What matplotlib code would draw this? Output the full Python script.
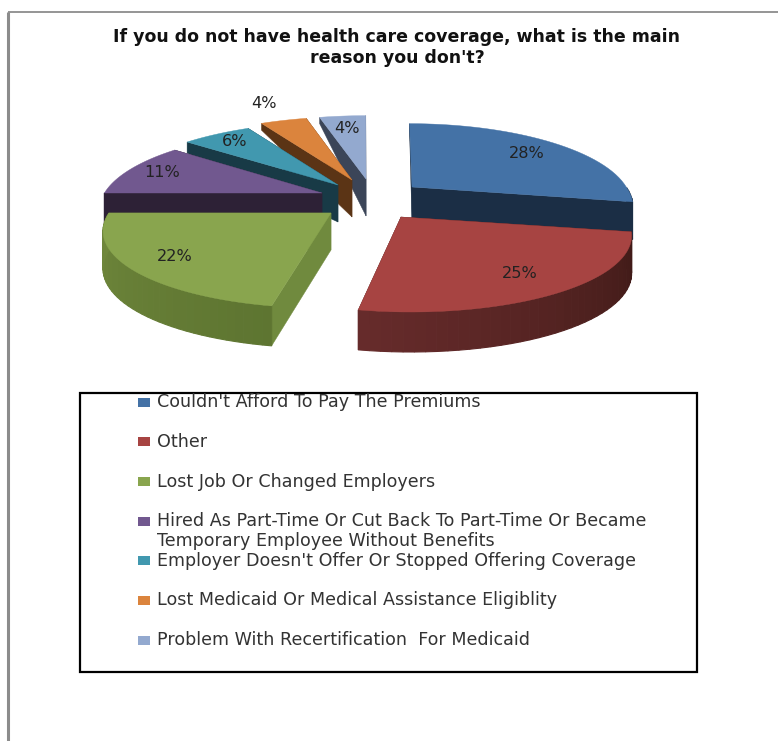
import numpy as np
import matplotlib
matplotlib.use('Agg')
import matplotlib.pyplot as plt
from matplotlib.patches import Rectangle

plt.rcParams['font.family'] = ['DejaVu Sans']

title = "If you do not have health care coverage, what is the main\nreason you don't?"
reasons = ["Couldn't Afford To Pay The Premiums",
           "Other",
           "Lost Job Or Changed Employers",
           "Hired As Part-Time Or Cut Back To Part-Time Or Became\nTemporary Employee Without Benefits",
           "Employer Doesn't Offer Or Stopped Offering Coverage",
           "Lost Medicaid Or Medical Assistance Eligiblity",
           "Problem With Recertification  For Medicaid"]
percents = [28, 25, 22, 11, 6, 4, 4]

top_cols = ['#4472a6', '#a74442', '#89a54e', '#71588f', '#4198af', '#db843d', '#93a9cf']
cut_cols = ['#1b2e45', '#451c19', '#708a3e', '#2d2136', '#183a46', '#5b3415', '#3b4558']
arc_cols = [('#1b2e45', '#1b2e45'), ('#3f1a17', '#662b2b'), ('#5e7531', '#70883c'),
            ('#2d2136', '#2d2136'), ('#183a46', '#183a46'), ('#5b3415', '#5b3415'),
            ('#3b4558', '#3b4558')]

# where each exploded slice has its tip, in pixels
tip_x = [412, 401, 331, 322, 338, 352, 366]
tip_y = [187, 217, 213, 193, 185, 180, 179]
radius = [0.965, 1.01, 1.0, 0.98, 1.0, 1.0, 1.0]
label_r = [0.77, 0.78, 0.80, 0.83, 0.83, 1.36, 0.77]
draw_order = [6, 5, 4, 3, 0, 2, 1]

# fake perspective of the 3d pie
van_x = 362.
rx = 222.
ry = 76.
k = 0.2


def project(ax0, ay0, theta, r=1., scale=1.):
    c = -np.cos(theta) * r
    s = 1. / (1. - k * c)
    # tips drift away from the vanishing point mostly towards the front
    drift = np.where(s > 1., s - 1., 0.3 * (s - 1.))
    x = ax0 + (ax0 - van_x) * drift + rx * scale * r * np.sin(theta) * s
    y = ay0 + ry * c * s
    return x, y


def depth(theta, r=1.):
    c = -np.cos(theta) * r
    return np.interp(c, [-1, -0.85, -0.64, 0, 1], [6, 7, 11, 37, 40])


def mix(c1, c2, t):
    a = np.array(matplotlib.colors.to_rgb(c1))
    b = np.array(matplotlib.colors.to_rgb(c2))
    return tuple(a + (b - a) * t)


fig = plt.figure(figsize=(7.78, 7.41), dpi=100)
ax = fig.add_axes([0, 0, 1, 1])
ax.set_xlim(0, 778)
ax.set_ylim(741, 0)
ax.axis('off')

# page edge
ax.plot([8, 8], [741, 12], color='#8c8c8c', lw=2.2, solid_capstyle='butt')
ax.plot([8, 778], [12, 12], color='#8c8c8c', lw=1.3, solid_capstyle='butt')

ax.text(397, 47.5, title, ha='center', va='center', fontsize=12.5, fontweight='bold',
        color='#111111', linespacing=1.25)

edges = np.cumsum([0] + percents) / float(sum(percents)) * 2 * np.pi

for i in draw_order:
    t0, t1 = edges[i], edges[i + 1]
    ax0, ay0 = tip_x[i], tip_y[i]
    thetas = np.linspace(t0, t1, 40)
    xs, ys = project(ax0, ay0, thetas, scale=radius[i])
    ds = depth(thetas)
    d_tip = depth(0., 0.)

    # the two cut faces
    for x1, y1, d1 in ((xs[0], ys[0], ds[0]), (xs[-1], ys[-1], ds[-1])):
        ax.fill([x1, x1, ax0, ax0], [y1, y1 + d1, ay0 + d_tip, ay0],
                color=cut_cols[i], lw=0.3)

    # outer rim in small strips for the shading, back rims can't be seen
    for j in range(len(thetas) - 1):
        if np.cos(thetas[j]) > -0.02 and np.cos(thetas[j + 1]) > -0.02:
            continue
        col = mix(arc_cols[i][0], arc_cols[i][1], j / (len(thetas) - 2.))
        ax.fill([xs[j], xs[j + 1], xs[j + 1], xs[j]],
                [ys[j], ys[j + 1], ys[j + 1] + ds[j + 1], ys[j] + ds[j]],
                fc=col, ec=col, lw=0.8)

    ax.fill(np.r_[ax0, xs], np.r_[ay0, ys], color=top_cols[i], lw=0.3)

for i in range(len(percents)):
    mid = (edges[i] + edges[i + 1]) / 2.
    lx, ly = project(tip_x[i], tip_y[i], mid, label_r[i], radius[i])
    ax.text(lx, ly, str(percents[i]) + '%', ha='center', va='center',
            fontsize=11.6, color='#222222')

# legend box
ax.add_patch(Rectangle((80.5, 392.5), 617, 279, fc='none', ec='black', lw=1.6))
row_y = 402.
for name, col in zip(reasons, top_cols):
    ax.add_patch(Rectangle((138, row_y - 4.5), 12, 9, fc=col, ec='none'))
    lines = name.split('\n')
    for n, line in enumerate(lines):
        ax.text(157, row_y + n * 19.5, line, ha='left', va='center',
                fontsize=12.6, color='#333333')
    row_y += 39.8 if len(lines) == 1 else 39.2

fig.savefig('out.png', dpi=100)
